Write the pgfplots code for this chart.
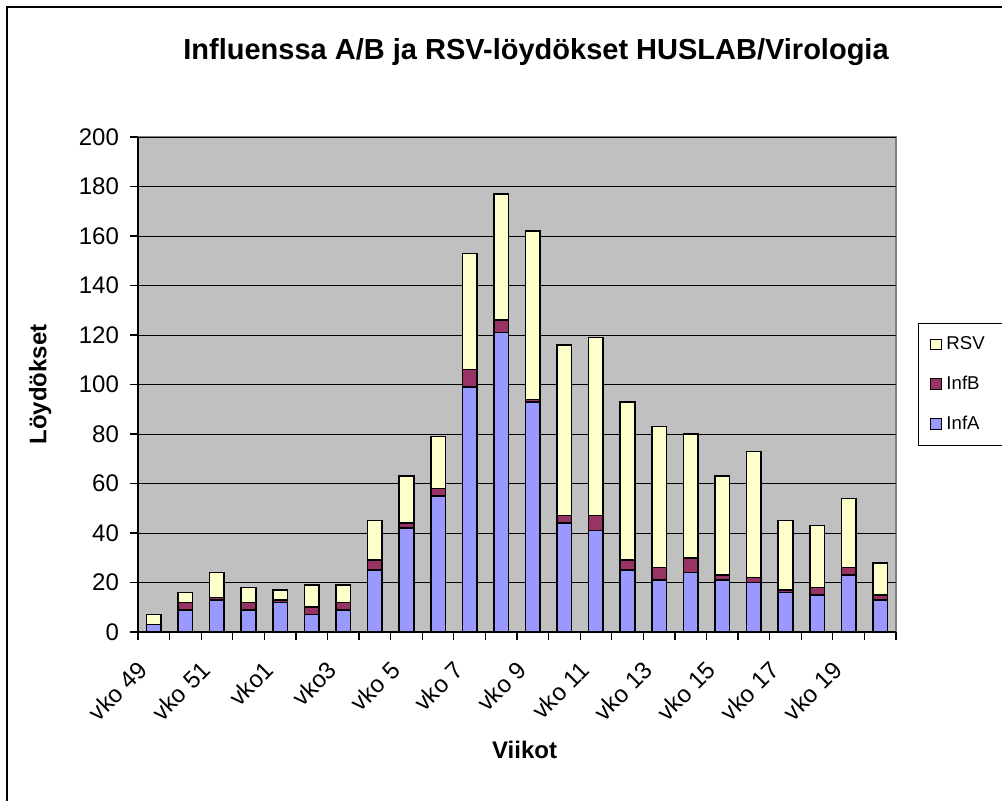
\documentclass[border=0pt]{standalone}
\usepackage{pgfplots}
\usepackage{pgfplotstable}
\pgfplotsset{compat=1.18}
\usepackage{fontspec}
\setmainfont{Liberation Sans}
\definecolor{infa}{HTML}{9999FF}
\definecolor{infb}{HTML}{993366}
\definecolor{rsv}{HTML}{FFFFCC}
\definecolor{plotbg}{HTML}{C0C0C0}
\pgfplotstableread{
x A B R
0 3 0 4
1 9 3 4
2 13 1 10
3 9 3 6
4 12 1 4
5 7 3 9
6 9 3 7
7 25 4 16
8 42 2 19
9 55 3 21
10 99 7 47
11 121 5 51
12 93 1 68
13 44 3 69
14 41 6 72
15 25 4 64
16 21 5 57
17 24 6 50
18 21 2 40
19 20 2 51
20 16 1 28
21 15 3 25
22 23 3 28
23 13 2 13
}\data
\begin{document}
\begin{tikzpicture}
\useasboundingbox (0,0) rectangle (501pt,400pt);
\clip (0,0) rectangle (501pt,400pt);
\draw[black, line width=0.6pt] (3.5pt,-5pt) -- (3.5pt,396.5pt) -- (510pt,396.5pt);
\node[font=\fontsize{14.5}{17}\selectfont\bfseries] at (268pt,374pt) {Influenssa A/B ja RSV-löydökset HUSLAB/Virologia};
\begin{axis}[
  at={(69pt,84pt)}, anchor=south west,
  width=379pt, height=247.5pt, scale only axis,
  xmin=-0.5, xmax=23.5, ymin=0, ymax=200,
  ybar stacked, bar width=7.3pt,
  axis background/.style={fill=plotbg, draw=gray, line width=0.6pt},
  axis x line*=bottom, axis y line*=left,
  axis line style={black, line width=0.7pt, -},
  ytick={0,20,...,200},
  ymajorgrids, grid style={black, line width=0.5pt},
  xtick={-0.5,0.5,...,23.5},
  xticklabels={},
  extra x ticks={0,2,...,22},
  extra x tick labels={vko 49, vko 51, vko1, vko3, vko 5, vko 7, vko 9, vko 11, vko 13, vko 15, vko 17, vko 19},
  extra x tick style={major tick length=0pt, grid=none},
  xticklabel style={xshift=-3pt, yshift=-14.5pt, rotate=45, anchor=east},
  yticklabel style={xshift=-2pt},
  tick align=outside,
  major tick length=4pt,
  tick style={black, line width=0.6pt},
  tick label style={font=\fontsize{12}{14}\selectfont},
  /pgf/number format/assume math mode=true,
  ylabel={\bfseries Löydökset},
  ylabel style={at={(axis description cs:-0.129,0.5)}, anchor=center, font=\fontsize{12}{14}\selectfont},
  xlabel={\bfseries Viikot},
  xlabel style={at={(axis description cs:0.51,-0.238)}, anchor=center, font=\fontsize{12}{14}\selectfont},
  legend style={at={(1.029,0.5)}, anchor=west, draw=black, line width=0.5pt,
    font=\fontsize{9.3}{11}\selectfont, inner xsep=6pt, inner ysep=4.3pt, row sep=7.75pt},
  legend cell align=left,
  reverse legend,
  legend image code/.code={\draw[#1, line width=0.5pt, draw=black] (0pt,-2.7pt) rectangle (5.5pt,2.7pt);},
]
\addplot[fill=infa, draw=black, line width=0.8pt] table[x=x,y=A]{\data};
\addplot[fill=infb, draw=black, line width=0.8pt] table[x=x,y=B]{\data};
\addplot[fill=rsv, draw=black, line width=0.8pt] table[x=x,y=R]{\data};
\legend{\makebox[34pt][l]{InfA}, \makebox[34pt][l]{InfB}, \makebox[34pt][l]{RSV}}
\end{axis}
\end{tikzpicture}
\end{document}
